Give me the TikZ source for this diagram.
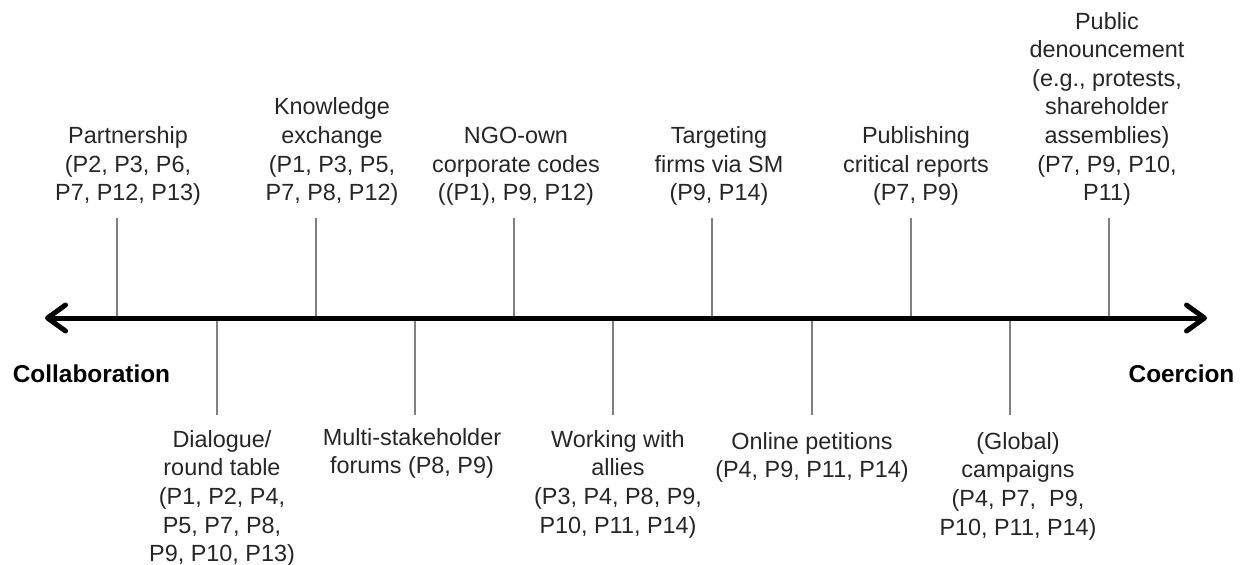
\documentclass[tikz,border=0pt]{standalone}
\usepackage{fontspec}
\setmainfont{Liberation Sans}
\usetikzlibrary{arrows.meta}
\definecolor{txtc}{HTML}{262626}
\definecolor{tickc}{HTML}{7F7F7F}
\begin{document}
\begin{tikzpicture}[x=0.5pt,y=-0.5pt,
  lab/.style={align=center,text=txtc,font=\fontsize{11.7}{14.3}\selectfont,inner sep=0pt},
  uplab/.style={lab,anchor=south},
  downlab/.style={lab,anchor=north},
  tickline/.style={draw=tickc,line width=1pt},
  axisline/.style={draw=black,line width=2.5pt,{Straight Barb[length=9pt,width=13pt,round]}-{Straight Barb[length=9pt,width=13pt,round]}},
  poletext/.style={font=\bfseries\fontsize{12.2}{14}\selectfont,text=black,inner sep=0pt}]
\useasboundingbox (0,0) rectangle (1244,564);
% axis
\coordinate (L) at (45,318);
\coordinate (R) at (1207,318);
% tick coordinates on axis
\foreach \n/\x in {1/117,2/217,3/316,4/415,5/514,6/613,7/712,8/812,9/911,10/1010,11/1109}{
  \coordinate (a\n) at (\x,318);
}
\foreach \n/\x in {1/117,3/316,5/514,7/712,9/911,11/1109}{
  \coordinate (e\n) at (\x,218);
}
\foreach \n/\x in {2/217,4/415,6/613,8/812,10/1010}{
  \coordinate (e\n) at (\x,415);
}
\foreach \n in {1,...,11}{
  \draw[tickline] (e\n) -- (a\n);
}
\draw[axisline] (L) -- (R);
% upper labels
\node[uplab] (partner) at (128,206) {Partnership\\(P2, P3, P6,\\P7, P12, P13)};
\node[uplab] (know) at (332,206) {Knowledge\\exchange\\(P1, P3, P5,\\P7, P8, P12)};
\node[uplab] (ngo) at (516,206) {NGO-own\\corporate codes\\((P1), P9, P12)};
\node[uplab] (target) at (719,206) {Targeting\\firms via SM\\(P9, P14)};
\node[uplab] (publish) at (916,206) {Publishing\\critical reports\\(P7, P9)};
\node[uplab] (denounce) at (1107,206) {Public\\denouncement\\(e.g., protests,\\shareholder\\assemblies)\\(P7, P9, P10,\\P11)};
% lower labels
\node[downlab] (dialogue) at (222,430) {Dialogue/\\round table\\(P1, P2, P4,\\P5, P7, P8,\\P9, P10, P13)};
\node[downlab] (multi) at (412,428) {Multi-stakeholder\\forums (P8, P9)};
\node[downlab] (allies) at (618,430) {Working with\\allies\\(P3, P4, P8, P9,\\P10, P11, P14)};
\node[downlab] (online) at (812,432) {Online petitions\\(P4, P9, P11, P14)};
\node[downlab] (global) at (1018,432) {(Global)\\campaigns\\(P4, P7,\ \ P9,\\P10, P11, P14)};
% poles
\node[poletext] (collab) at (91.5,374) {Collaboration};
\node[poletext] (coerc) at (1181.5,374) {Coercion};
\end{tikzpicture}
\end{document}
